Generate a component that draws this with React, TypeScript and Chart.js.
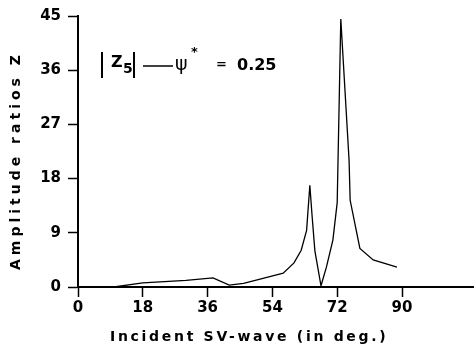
import React, { useEffect, useRef } from "react";
import { Chart, registerables } from "chart.js";
Chart.register(...registerables);

const angles = [0, 10, 18, 30, 37.5, 42, 46, 53, 57, 60, 62, 63.5, 64.4, 65, 65.8, 67.5, 69, 70.8, 72, 73, 75.3, 75.6, 78.3, 82, 88.6];
const amplitudes = [0, 0, 0.7, 1.1, 1.5, 0.3, 0.6, 1.7, 2.3, 4, 6.1, 9.4, 16.9, 12, 6, 0.2, 3.3, 7.8, 14, 44.5, 21, 14.4, 6.4, 4.5, 3.3];
const xTicks = [0, 18, 36, 54, 72, 90];
const yTicks = [0, 9, 18, 27, 36, 45];
const xTitle = "Incident SV-wave (in deg.)";
const yTitle = "Amplitude ratios Z";
const psiValue = "0.25";

const FONT = '"DejaVu Sans", sans-serif';

const textPlugin = {
  id: "texts",
  afterDraw(chart: any) {
    const ctx = chart.ctx as CanvasRenderingContext2D;
    ctx.save();
    ctx.fillStyle = "#000";
    ctx.strokeStyle = "#000";
    // x title
    ctx.font = `bold 14px ${FONT}`;
    (ctx as any).letterSpacing = "2.7px";
    ctx.textAlign = "left";
    ctx.textBaseline = "middle";
    ctx.fillText(xTitle, 110, 337);
    // y title
    ctx.save();
    ctx.translate(16, 270);
    ctx.rotate(-Math.PI / 2);
    (ctx as any).letterSpacing = "4px";
    ctx.fillText(yTitle, 0, 0);
    ctx.restore();
    // annotation |Z5| —— ψ* = 0.25
    (ctx as any).letterSpacing = "0px";
    ctx.lineWidth = 2;
    ctx.beginPath();
    ctx.moveTo(102, 52); ctx.lineTo(102, 78);
    ctx.moveTo(134, 52); ctx.lineTo(134, 78);
    ctx.stroke();
    ctx.font = `bold 16px ${FONT}`;
    ctx.fillText("Z", 111, 63);
    ctx.font = `bold 14px ${FONT}`;
    ctx.fillText("5", 123, 69);
    ctx.lineWidth = 1.5;
    ctx.beginPath();
    ctx.moveTo(143, 66); ctx.lineTo(173, 66);
    ctx.stroke();
    ctx.font = `19px ${FONT}`;
    ctx.fillText("ψ", 175, 65);
    ctx.font = `bold 13px ${FONT}`;
    ctx.fillText("*", 191, 53);
    ctx.font = `bold 13px ${FONT}`;
    ctx.fillText("=", 216, 65);
    ctx.font = `bold 16px ${FONT}`;
    ctx.fillText(psiValue, 237, 66);
    ctx.restore();
  },
};

export default function App() {
  const ref = useRef<HTMLCanvasElement>(null);
  useEffect(() => {
    const chart = new Chart(ref.current!, {
      type: "line",
      data: {
        datasets: [
          {
            data: angles.map((x, i) => ({ x, y: amplitudes[i] })),
            borderColor: "#000",
            borderWidth: 1.3,
            pointRadius: 0,
            tension: 0,
            fill: false,
          },
        ],
      },
      options: {
        animation: false,
        responsive: false,
        maintainAspectRatio: false,
        layout: { padding: { top: 15, right: 0, left: 0, bottom: 0 } },
        plugins: { legend: { display: false }, tooltip: { enabled: false } },
        scales: {
          x: {
            type: "linear",
            min: 0,
            max: 110,
            afterBuildTicks: (s: any) => { s.ticks = xTicks.map((v) => ({ value: v })); },
            afterFit: (s: any) => { s.height = 66; },
            grid: { drawOnChartArea: false, drawTicks: true, tickLength: 10, color: "#000", tickWidth: 1.5 },
            border: { display: true, color: "#000", width: 2 },
            ticks: { color: "#000", padding: 2, font: { family: FONT, weight: "bold", size: 15 } },
          },
          y: {
            type: "linear",
            min: 0,
            max: 45,
            afterBuildTicks: (s: any) => { s.ticks = yTicks.map((v) => ({ value: v })); },
            afterFit: (s: any) => { s.width = 78; },
            grid: { drawOnChartArea: false, drawTicks: true, tickLength: 10, color: "#000", tickWidth: 1.5 },
            border: { display: true, color: "#000", width: 2 },
            ticks: { color: "#000", padding: 7, font: { family: FONT, weight: "bold", size: 15 } },
          },
        },
      },
      plugins: [textPlugin],
    });
    return () => chart.destroy();
  }, []);
  return (
    <div style={{ position: "fixed", left: 0, top: 0, width: 474, height: 353, background: "#fff" }}>
      <canvas ref={ref} width={474} height={353} style={{ width: 474, height: 353 }} />
    </div>
  );
}
